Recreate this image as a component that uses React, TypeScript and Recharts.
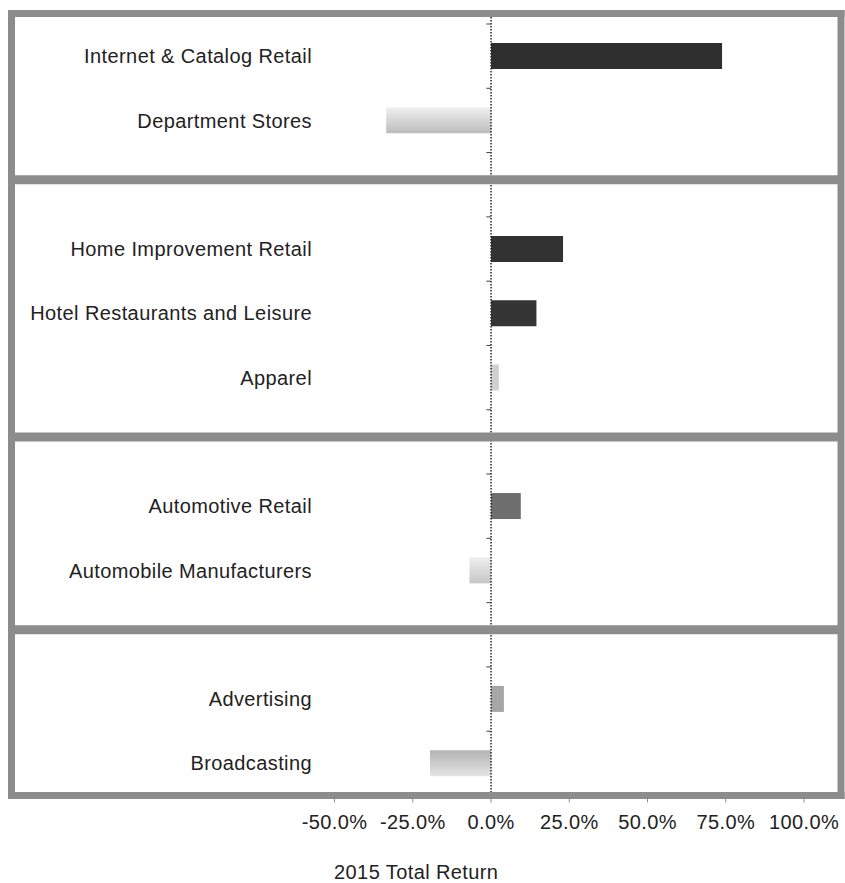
import React from 'react';
import { BarChart, Bar, XAxis, YAxis, Cell, ReferenceLine, Label } from 'recharts';

// ---- data ----
const categories = [
  'Internet & Catalog Retail',
  'Department Stores',
  'Home Improvement Retail',
  'Hotel Restaurants and Leisure',
  'Apparel',
  'Automotive Retail',
  'Automobile Manufacturers',
  'Advertising',
  'Broadcasting',
];
const returns2015 = [73.8, -33.5, 23.0, 14.5, 2.5, 9.5, -6.9, 4.1, -19.5];
const panelSizes = [2, 3, 2, 2];
const xTicks = [-50, -25, 0, 25, 50, 75, 100];
const xDomain: [number, number] = [-153.2, 111.8];
const axisTitle = '2015 Total Return';

// ---- styles ----
const barFills = [
  '#2f2f2f',
  'url(#gDept)',
  '#323232',
  '#353535',
  '#d0d0d0',
  '#6e6e6e',
  'url(#gAutoMfr)',
  '#a6a6a6',
  'url(#gBroad)',
];
const frameColor = '#8c8c8c';
const textColor = '#222222';
const fontFamily = '"Liberation Sans", Arial, Helvetica, sans-serif';

type Row = { name: string; value: number | null; fill: string };
const rows: Row[] = [];
let k = 0;
panelSizes.forEach((n, p) => {
  if (p > 0) rows.push({ name: `gap-${p}`, value: null, fill: 'none' });
  for (let i = 0; i < n; i++, k++) {
    rows.push({ name: categories[k], value: returns2015[k], fill: barFills[k] });
  }
});
const gapKeys = rows.filter((r) => r.value === null).map((r) => r.name);

const YTick = (props: any) => {
  const { x, y, payload } = props;
  const v = String(payload.value);
  if (v.startsWith('gap-')) return <g />;
  return (
    <text
      x={x + 300.5}
      y={y}
      dy="0.355em"
      textAnchor="end"
      fontSize={20}
      letterSpacing={0.4}
      fill={textColor}
      fontFamily={fontFamily}
    >
      {v}
    </text>
  );
};

const sepShape = (p: any) => (
  <line x1={p.x1} y1={p.y1 - 5} x2={p.x2} y2={p.y2 - 5} stroke={frameColor} strokeWidth={9} />
);

export default function App() {
  return (
    <div style={{ position: 'absolute', left: 0, top: 0, width: 845, height: 883, background: '#fff' }}>
      <BarChart
        width={845}
        height={883}
        data={rows}
        layout="vertical"
        margin={{ top: 12.5, right: 4, bottom: 0, left: 10.5 }}
        style={{ fontFamily }}
      >
        <defs>
          <linearGradient id="gDept" x1="0" y1="0" x2="0" y2="1">
            <stop offset="0%" stopColor="#f0f0f0" />
            <stop offset="100%" stopColor="#bcbcbc" />
          </linearGradient>
          <linearGradient id="gAutoMfr" x1="0" y1="0" x2="0" y2="1">
            <stop offset="0%" stopColor="#eeeeee" />
            <stop offset="100%" stopColor="#c6c6c6" />
          </linearGradient>
          <linearGradient id="gBroad" x1="0" y1="0" x2="0" y2="1">
            <stop offset="0%" stopColor="#b4b4b4" />
            <stop offset="100%" stopColor="#e4e4e4" />
          </linearGradient>
        </defs>
        <XAxis
          type="number"
          domain={xDomain}
          allowDataOverflow
          ticks={xTicks}
          interval={0}
          tickFormatter={(v: number) => `${v.toFixed(1)}%`}
          height={87.5}
          tickSize={7}
          tickMargin={12}
          tickLine={{ stroke: frameColor }}
          axisLine={{ stroke: frameColor, strokeWidth: 7, strokeLinecap: 'square' }}
          tick={{ fill: textColor, fontSize: 20, letterSpacing: 0.4, fontFamily }}
        >
          <Label
            value={axisTitle}
            position="insideBottom"
            offset={4}
            dx={-10}
            fill={textColor}
            fontSize={20}
            letterSpacing={0.4}
            fontFamily={fontFamily}
          />
        </XAxis>
        <XAxis
          xAxisId="top"
          orientation="top"
          type="number"
          domain={xDomain}
          allowDataOverflow
          height={1}
          tick={false}
          tickLine={false}
          axisLine={{ stroke: frameColor, strokeWidth: 7, strokeLinecap: 'square' }}
        />
        <YAxis
          type="category"
          dataKey="name"
          width={1}
          interval={0}
          padding={{ top: 10.5, bottom: 0 }}
          tickSize={0}
          tickMargin={0}
          tickLine={false}
          axisLine={{ stroke: frameColor, strokeWidth: 7, strokeLinecap: 'square' }}
          tick={<YTick />}
        />
        <Bar dataKey="value" barSize={26} isAnimationActive={false}>
          {rows.map((r) => (
            <Cell key={r.name} fill={r.fill} />
          ))}
        </Bar>
        <ReferenceLine x={0} stroke="#222" strokeWidth={1.5} strokeDasharray="1.5 1.5" ifOverflow="visible" />
        {rows.map((r) => (
          <ReferenceLine
            key={`t-${r.name}`}
            segment={[
              { x: -1.5, y: r.name },
              { x: 0, y: r.name },
            ]}
            position="start"
            stroke="#444"
            strokeWidth={1}
            ifOverflow="visible"
          />
        ))}
        {gapKeys.map((g) => (
          <ReferenceLine key={g} y={g} shape={sepShape} ifOverflow="visible" />
        ))}
        <ReferenceLine
          x={xDomain[1]}
          stroke={frameColor}
          strokeWidth={7}
          strokeLinecap="square"
          ifOverflow="visible"
        />
      </BarChart>
    </div>
  );
}
